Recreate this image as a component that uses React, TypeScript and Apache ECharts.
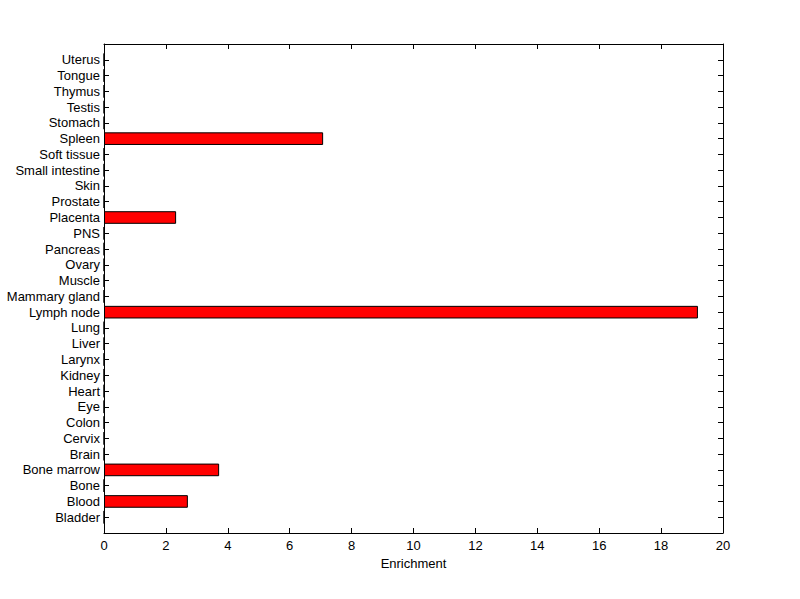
import React, { useEffect, useRef } from "react";
import * as echarts from "echarts";

const categories = [
  "Bladder", "Blood", "Bone", "Bone marrow", "Brain", "Cervix", "Colon", "Eye",
  "Heart", "Kidney", "Larynx", "Liver", "Lung", "Lymph node", "Mammary gland",
  "Muscle", "Ovary", "Pancreas", "PNS", "Placenta", "Prostate", "Skin",
  "Small intestine", "Soft tissue", "Spleen", "Stomach", "Testis", "Thymus",
  "Tongue", "Uterus",
];
const enrichment = [
  0, 2.71, 0, 3.72, 0, 0, 0, 0,
  0, 0, 0, 0, 0, 19.19, 0,
  0, 0, 0, 0, 2.33, 0, 0,
  0, 0, 7.08, 0, 0, 0,
  0, 0,
];
const xTicks = { min: 0, max: 20, interval: 2 };

export default function App() {
  const ref = useRef<HTMLDivElement>(null);
  useEffect(() => {
    if (!ref.current) return;
    const chart = echarts.init(ref.current, null, { renderer: "svg" });
    const cats = ["", ...categories, ""];
    const vals: any[] = ["-", ...enrichment, "-"];
    const font = { fontFamily: "'Liberation Sans', Arial, sans-serif", fontSize: 13, color: "#000" };
    const axisLine = { show: true, onZero: false, lineStyle: { color: "#000", width: 1 } };
    const tick = { show: true, inside: true, length: 5, lineStyle: { color: "#000" } };
    chart.setOption({
      animation: false,
      backgroundColor: "#fff",
      grid: { left: 104, right: 77, top: 44, bottom: 66, containLabel: false },
      xAxis: [
        {
          type: "value",
          position: "bottom",
          ...xTicks,
          name: "Enrichment",
          nameLocation: "middle",
          nameGap: 22,
          nameTextStyle: { ...font },
          axisLine,
          axisTick: tick,
          axisLabel: { ...font, margin: 6 },
          splitLine: { show: false },
        },
        {
          type: "value",
          position: "top",
          ...xTicks,
          axisLine,
          axisTick: tick,
          axisLabel: { show: false },
          splitLine: { show: false },
        },
      ],
      yAxis: [
        {
          type: "category",
          position: "left",
          data: cats,
          boundaryGap: false,
          axisLine,
          axisTick: { ...tick, interval: 0 },
          axisLabel: { ...font, interval: 0, margin: 4 },
          splitLine: { show: false },
        },
        {
          type: "category",
          position: "right",
          data: cats,
          boundaryGap: false,
          axisLine,
          axisTick: { ...tick, interval: 0 },
          axisLabel: { show: false },
          splitLine: { show: false },
        },
      ],
      series: [
        {
          type: "bar",
          xAxisIndex: 0,
          yAxisIndex: 0,
          data: vals,
          barWidth: "80%",
          itemStyle: { color: "#ff0000", borderColor: "#000", borderWidth: 1 },
          z: 1,
        },
      ],
    });
    return () => chart.dispose();
  }, []);
  return <div ref={ref} style={{ width: 800, height: 599, position: "absolute", left: 0, top: 0, background: "#fff" }} />;
}
